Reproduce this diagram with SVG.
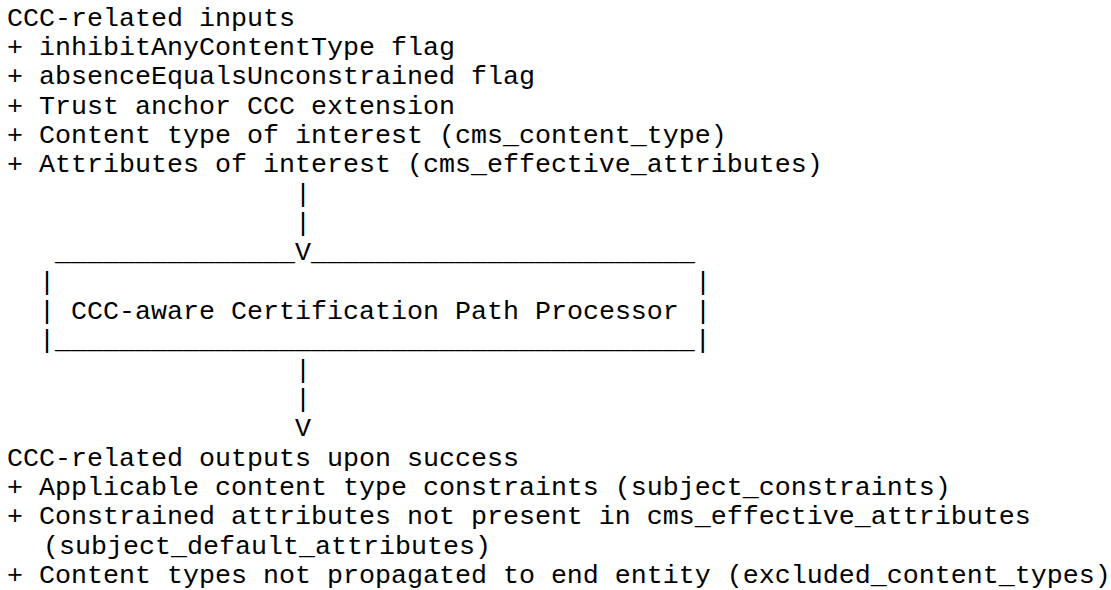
<svg xmlns="http://www.w3.org/2000/svg" width="1111" height="590" viewBox="0 0 1111 590">
  <style>
    text { font-family: "Courier New", "Nimbus Mono PS", "FreeMono", "Liberation Mono", monospace; font-size: 26.667px; fill: #000; white-space: pre; }
  </style>
  <rect x="0" y="0" width="1111" height="590" fill="#ffffff"/>
  <g id="inputs">
    <text x="7" y="25.5">CCC-related inputs</text>
    <text x="7" y="54.8">+ inhibitAnyContentType flag</text>
    <text x="7" y="84.2">+ absenceEqualsUnconstrained flag</text>
    <text x="7" y="113.5">+ Trust anchor CCC extension</text>
    <text x="7" y="142.8">+ Content type of interest (cms_content_type)</text>
    <text x="7" y="172.2">+ Attributes of interest (cms_effective_attributes)</text>
  </g>
  <g id="processor">
    <text x="55" y="260.2">_______________</text>
    <text x="311" y="260.2">________________________</text>
    <text x="39" y="289.5">|</text>
    <text x="695" y="289.5">|</text>
    <text x="39" y="318.8">|</text>
    <text x="71" y="318.8">CCC-aware Certification Path Processor</text>
    <text x="695" y="318.8">|</text>
    <text x="39" y="348.2">|________________________________________|</text>
  </g>
  <g id="connectors">
    <text x="295" y="201.5">|</text>
    <text x="295" y="230.8">|</text>
    <text x="295" y="260.2">V</text>
    <text x="295" y="377.5">|</text>
    <text x="295" y="406.8">|</text>
    <text x="295" y="436.2">V</text>
  </g>
  <g id="outputs">
    <text x="7" y="465.5">CCC-related outputs upon success</text>
    <text x="7" y="494.8">+ Applicable content type constraints (subject_constraints)</text>
    <text x="7" y="524.2">+ Constrained attributes not present in cms_effective_attributes</text>
    <text x="43" y="553.5">(subject_default_attributes)</text>
    <text x="7" y="582.8">+ Content types not propagated to end entity (excluded_content_types)</text>
  </g>
</svg>
